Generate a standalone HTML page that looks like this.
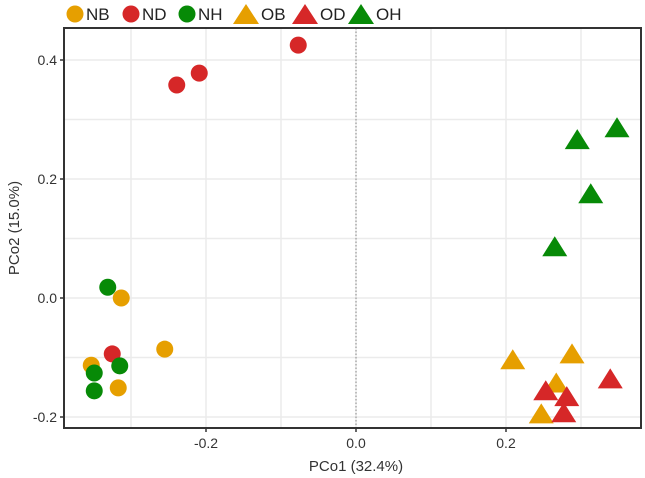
<!DOCTYPE html>
<html><head><meta charset="utf-8"><style>
body{margin:0;background:#fff;}
svg{display:block;font-family:"Liberation Sans",sans-serif;}
</style></head><body>
<svg id="chart" width="645" height="478" viewBox="0 0 645 478"></svg>
<script>
const xTicks=[-0.2,0.0,0.2];
const yTicks=[-0.2,0.0,0.2,0.4];
const xGrid=[-0.3,-0.2,-0.1,0.0,0.1,0.2,0.3];
const yGrid=[-0.2,-0.1,0.0,0.1,0.2,0.3,0.4];
const groups=["NB","ND","NH","OB","OD","OH"];
const nbX=[-0.313,-0.255,-0.353,-0.317];
const nbY=[0.0,-0.086,-0.113,-0.151];
const ndX=[-0.077,-0.209,-0.239,-0.325];
const ndY=[0.425,0.378,0.358,-0.094];
const nhX=[-0.331,-0.315,-0.349,-0.349];
const nhY=[0.018,-0.114,-0.126,-0.156];
const obX=[0.209,0.288,0.267,0.247];
const obY=[-0.103,-0.093,-0.142,-0.194];
const odX=[0.253,0.281,0.277,0.339];
const odY=[-0.155,-0.165,-0.192,-0.135];
const ohX=[0.348,0.295,0.313,0.265];
const ohY=[0.287,0.267,0.176,0.087];

const L=64,R=641,T=28,B=428;
const sx=v=>356+v*750;
const sy=v=>298-v*595;
const svg=document.getElementById('chart');
const NS='http://www.w3.org/2000/svg';
function mk(tag,attrs,parent){const e=document.createElementNS(NS,tag);for(const k in attrs)e.setAttribute(k,attrs[k]);(parent||svg).appendChild(e);return e;}
const colors={NB:"#E69F00",ND:"#D62728",NH:"#078A07",OB:"#E69F00",OD:"#D62728",OH:"#078A07"};

xGrid.forEach(v=>{const l=mk('line',{x1:sx(v),x2:sx(v),y1:T,y2:B,stroke:'#ebebeb','stroke-width':1.5});

});
yGrid.forEach(v=>{const l=mk('line',{x1:L,x2:R,y1:sy(v),y2:sy(v),stroke:'#ebebeb','stroke-width':1.5});

});
const zl=mk('line',{x1:sx(0),x2:sx(0),y1:T,y2:B,stroke:'#888','stroke-width':1,'stroke-dasharray':'1.5,2'});



function circle(x,y,c,name){const e=mk('circle',{cx:x,cy:y,r:8.5,fill:c});

return e;}
function tri(x,y,c,name){const w=12.5,h=20;const e=mk('polygon',{points:`${x},${y-h/2} ${x-w},${y+h/2} ${x+w},${y+h/2}`,fill:c});

return e;}

const series=[["NB",nbX,nbY,"c"],["ND",ndX,ndY,"c"],["NH",nhX,nhY,"c"],["OB",obX,obY,"t"],["OD",odX,odY,"t"],["OH",ohX,ohY,"t"]];
series.forEach(([g,xs,ys,s])=>{xs.forEach((v,i)=>{
 const nm='point-'+g.toLowerCase();
 if(s==="c")circle(sx(v),sy(ys[i]),colors[g],nm);else tri(sx(v),sy(ys[i]),colors[g],nm);});});

const fr=mk('rect',{x:L,y:T,width:R-L,height:B-T,fill:'none',stroke:'#333','stroke-width':2});



xTicks.forEach(v=>{mk('line',{x1:sx(v),x2:sx(v),y1:B,y2:B+4,stroke:'#333','stroke-width':1.5});
const t=mk('text',{x:sx(v),y:B+20,'text-anchor':'middle','font-size':14,fill:'#333'});t.textContent=v.toFixed(1);

});
yTicks.forEach(v=>{mk('line',{x1:L-4,x2:L,y1:sy(v),y2:sy(v),stroke:'#333','stroke-width':1.5});
const t=mk('text',{x:L-7,y:sy(v)+5,'text-anchor':'end','font-size':14,fill:'#333'});t.textContent=v.toFixed(1);

});

const xt=mk('text',{x:356,y:471,'text-anchor':'middle','font-size':15,fill:'#333'});xt.textContent='PCo1 (32.4%)';


const yt=mk('text',{x:0,y:0,'text-anchor':'middle','font-size':15,fill:'#333',transform:'translate(19,228) rotate(-90)'});yt.textContent='PCo2 (15.0%)';



const legPos=[75,131,187,246,305,361];
groups.forEach((g,i)=>{const x=legPos[i];
 const grp=mk('g',{});
 
 
 if(i<3){mk('circle',{cx:x,cy:14,r:8.5,fill:colors[g]},grp);}
 else{mk('polygon',{points:`${x},4 ${x-13},24 ${x+13},24`,fill:colors[g]},grp);}
 const t=mk('text',{x:x+(i<3?11:15),y:20,'font-size':17,fill:'#222'},grp);t.textContent=g;});
</script>
</body></html>
